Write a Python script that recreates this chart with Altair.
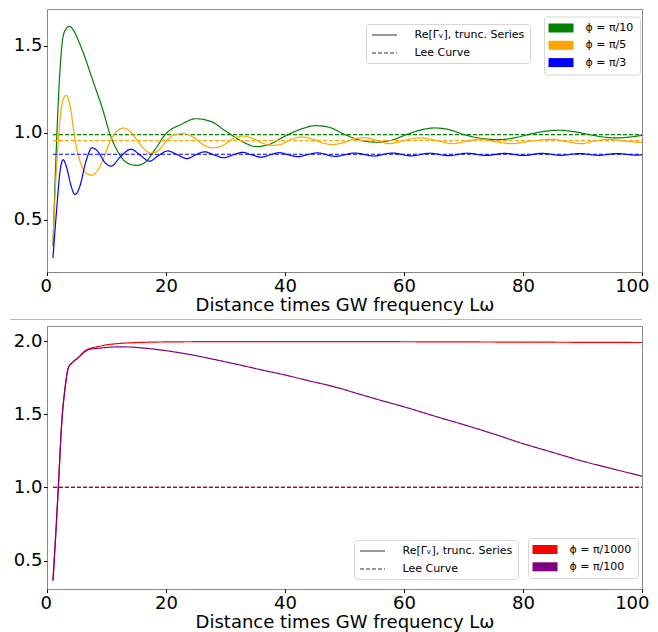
import altair as alt
import pandas as pd

SERIES = "Re[Γᵥ], trunc. Series"
LEE = "Lee Curve"
X_TITLE = "Distance times GW frequency Lω"

# ---------------- top panel data ----------------
top_labels = ["ϕ = π/10", "ϕ = π/5", "ϕ = π/3"]
top_colors = ["green", "orange", "blue"]
top_lee = [0.989, 0.954, 0.876]

green_pts = [(1.0, 0.35), (1.5, 0.85), (2.0, 1.25), (2.5, 1.5), (3.0, 1.585), (3.8, 1.61),
             (4.5, 1.585), (5.5, 1.51), (6.4, 1.43), (7.2, 1.35), (8.0, 1.27), (9.3, 1.14),
             (10.6, 0.99), (12.0, 0.885), (13.3, 0.83), (15.0, 0.812), (16.5, 0.83), (18.0, 0.895),
             (19.9, 0.99), (22.7, 1.05), (25.0, 1.08), (27.5, 1.065), (30.0, 1.01), (32.5, 0.955),
             (35.2, 0.92), (37.5, 0.935), (40.0, 0.98), (42.9, 1.023), (45.2, 1.04), (47.5, 1.03),
             (50.0, 0.99), (52.5, 0.958), (55.5, 0.945), (58.0, 0.958), (60.5, 0.99), (63.0, 1.017),
             (65.1, 1.027), (67.5, 1.018), (70.0, 0.99), (73.0, 0.967), (76.0, 0.96), (78.5, 0.97),
             (81.0, 0.99), (83.5, 1.007), (86.0, 1.014), (88.5, 1.006), (91.0, 0.99), (93.5, 0.975),
             (96.0, 0.97), (98.0, 0.975), (100.0, 0.985)]

orange_pts = [(1.0, 0.37), (1.6, 0.8), (2.2, 1.08), (2.7, 1.19), (3.2, 1.214), (3.9, 1.15),
              (4.7, 0.96), (5.6, 0.83), (6.5, 0.77), (7.6, 0.756), (8.8, 0.8), (9.7, 0.87),
              (10.6, 0.95), (11.8, 1.01), (12.9, 1.027), (14.0, 1.005), (15.5, 0.94), (16.5, 0.9),
              (17.6, 0.882), (18.8, 0.9), (20.3, 0.96), (21.5, 0.99), (23.0, 0.994), (24.8, 0.97),
              (26.3, 0.93), (27.8, 0.913), (29.5, 0.925), (31.2, 0.965), (32.8, 0.981), (34.5, 0.968),
              (36.2, 0.94), (37.9, 0.927), (39.5, 0.935), (41.3, 0.965), (42.9, 0.975), (44.7, 0.962),
              (46.4, 0.94), (48.0, 0.932), (50.0, 0.945), (52.0, 0.968), (53.5, 0.971), (55.5, 0.955),
              (57.5, 0.937), (60.0, 0.955), (62.6, 0.97), (65.5, 0.955), (68.2, 0.937), (70.5, 0.95),
              (72.7, 0.963), (75.5, 0.948), (78.0, 0.937), (81.5, 0.952), (85.0, 0.962), (87.5, 0.948),
              (89.8, 0.937), (92.0, 0.952), (94.3, 0.962), (97.0, 0.952), (100.0, 0.943)]

blue_pts = [(1.0, 0.28), (1.6, 0.55), (2.2, 0.78), (2.7, 0.845), (3.3, 0.80), (4.0, 0.70),
            (4.7, 0.645), (5.5, 0.69), (6.5, 0.83), (7.6, 0.913), (8.6, 0.89), (9.7, 0.83),
            (10.8, 0.808), (12.3, 0.86), (14.1, 0.905), (15.7, 0.87), (17.2, 0.836), (18.8, 0.87),
            (20.3, 0.895), (21.9, 0.874), (23.5, 0.851), (25.0, 0.873), (26.5, 0.89), (28.1, 0.872),
            (29.7, 0.856), (31.3, 0.873), (32.9, 0.887), (34.4, 0.873), (36.0, 0.859), (37.5, 0.873),
            (39.1, 0.885), (40.6, 0.873), (42.2, 0.862), (43.8, 0.874), (45.4, 0.884), (48.5, 0.864),
            (51.7, 0.883), (54.9, 0.866), (58.0, 0.883), (61.2, 0.867), (64.3, 0.882), (67.5, 0.868),
            (70.6, 0.882), (73.8, 0.869), (76.9, 0.881), (80.1, 0.869), (83.2, 0.881), (86.4, 0.870),
            (89.5, 0.880), (92.7, 0.870), (95.8, 0.880), (99.0, 0.871), (100.0, 0.873)]

# ---------------- bottom panel data ----------------
bot_labels = ["ϕ = π/1000", "ϕ = π/100"]
bot_colors = ["red", "purple"]
bot_lee = [1.0, 1.0]

red_pts = [(1.0, 0.363), (1.5, 0.70), (1.9, 1.0), (2.5, 1.456), (3.05, 1.685), (3.6, 1.82),
           (4.3, 1.856), (5.3, 1.89), (6.4, 1.935), (7.0, 1.948), (8.5, 1.963), (10.0, 1.976),
           (12.0, 1.985), (14.0, 1.99), (17.0, 1.994), (20.0, 1.996), (30.0, 1.998), (50.0, 1.998),
           (70.0, 1.996), (85.0, 1.994), (100.0, 1.992)]

purple_pts = [(1.0, 0.363), (1.5, 0.70), (1.9, 1.0), (2.5, 1.456), (3.05, 1.685), (3.6, 1.82),
              (4.3, 1.856), (5.3, 1.89), (6.4, 1.93), (7.0, 1.944), (8.5, 1.952), (10.0, 1.958),
              (12.0, 1.962), (14.0, 1.961), (16.0, 1.955), (20.0, 1.936), (24.0, 1.91), (28.0, 1.877),
              (32.0, 1.842), (36.0, 1.805), (40.0, 1.77), (44.0, 1.73), (48.0, 1.692), (52.0, 1.645),
              (56.0, 1.597), (60.0, 1.552), (65.0, 1.49), (70.0, 1.43), (75.0, 1.367), (80.0, 1.3),
              (85.0, 1.24), (90.0, 1.18), (95.0, 1.128), (100.0, 1.077)]

lee_x = [1.0, 100.0]


def build(labels, curves, lees):
    rows = []
    for lab, pts, lee in zip(labels, curves, lees):
        for x, y in pts:
            rows.append({"x": x, "y": y, "phi": lab, "kind": SERIES})
        for x in lee_x:
            rows.append({"x": x, "y": lee, "phi": lab, "kind": LEE})
    return pd.DataFrame(rows)


top_df = build(top_labels, [green_pts, orange_pts, blue_pts], top_lee)
bot_df = build(bot_labels, [red_pts, purple_pts], bot_lee)

FONT = "DejaVu Sans"
LINE_SYMBOL = "M-2.5,0H2.5"
PATCH_SYMBOL = "M-2.5,-0.9H2.5V0.9H-2.5Z"


def panel(df, labels, colors, ydomain, yticks, height, dash_pos, color_pos):
    xenc = alt.X("x:Q", scale=alt.Scale(domain=[0, 100], nice=False),
                 axis=alt.Axis(values=[0, 20, 40, 60, 80, 100], title=X_TITLE,
                               format="d", labelFlush=True, labelFlushOffset=7))
    yenc = alt.Y("y:Q", scale=alt.Scale(domain=ydomain, nice=False, zero=False),
                 axis=alt.Axis(values=yticks, format=".1f", title=None))
    color_legend = alt.Legend(
        title=None, orient="none", legendX=color_pos[0], legendY=color_pos[1],
        symbolType=PATCH_SYMBOL, symbolSize=100, symbolStrokeWidth=0, symbolOffset=5.5,
        labelFontSize=11, labelFont=FONT, labelColor="black", labelOffset=19,
        fillColor="white", strokeColor="#d6d6d6", cornerRadius=3, padding=6,
        rowPadding=5.3, symbolOpacity=1,
    )
    dash_legend = alt.Legend(
        title=None, orient="none", legendX=dash_pos[0], legendY=dash_pos[1],
        symbolType=LINE_SYMBOL, symbolStrokeWidth=1.2, symbolSize=100, symbolOffset=7.5,
        symbolStrokeColor="#333333",
        labelFontSize=11, labelFont=FONT, labelColor="black", labelOffset=24,
        fillColor="white", strokeColor="#d6d6d6", cornerRadius=3, padding=5,
        rowPadding=7,
    )
    layers = []
    for lab in labels:
        layers.append(
            alt.Chart(df).transform_filter(alt.datum.phi == lab).mark_line(
                strokeWidth=1.2, interpolate="monotone"
            ).encode(
                x=xenc, y=yenc,
                color=alt.Color("phi:N", scale=alt.Scale(domain=labels, range=colors),
                                legend=None),
                strokeDash=alt.StrokeDash("kind:N",
                                          scale=alt.Scale(domain=[SERIES, LEE],
                                                          range=[[1, 0], [4, 2]]),
                                          legend=dash_legend),
                order="x:Q",
            )
        )
    # invisible filled layer that only supplies the colour-patch legend
    layers.append(
        alt.Chart(df).mark_point(filled=True, opacity=0, size=1).encode(
            x=xenc, y=yenc,
            color=alt.Color("phi:N", scale=alt.Scale(domain=labels, range=colors),
                            legend=color_legend),
        )
    )
    return alt.layer(*layers).resolve_scale(color="independent").properties(
        width=595, height=height)


top = panel(top_df, top_labels, top_colors, [0.2, 1.71], [0.5, 1.0, 1.5], 263,
            (319, 15), (497, 7.5))
bot = panel(bot_df, bot_labels, bot_colors, [0.305, 2.105], [0.5, 1.0, 1.5, 2.0], 263,
            (307, 214), (481, 212))

separator = alt.Chart(pd.DataFrame({"a": [0]})).mark_rule(
    color="#b8b8b8", strokeWidth=1
).encode(x=alt.value(-37), x2=alt.value(595), y=alt.value(310.5))

top = alt.layer(top, separator)

chart = alt.vconcat(top, bot, spacing=4).resolve_scale(
    color="independent", strokeDash="independent", y="independent", x="independent"
).resolve_legend(color="independent", strokeDash="independent").properties(
    padding={"left": 1, "top": 0, "right": 0, "bottom": 0}
).configure_view(stroke="#888888", strokeWidth=1).configure_axis(
    labelFont=FONT, labelFontSize=18, labelColor="black",
    titleFont=FONT, titleFontSize=18, titleFontWeight="normal", titleColor="black",
    tickColor="black", tickSize=3.5, labelPadding=1.5, titlePadding=1,
    domain=False, grid=False,
)

chart.save("out.html", embed_options={"renderer": "svg", "actions": False})
